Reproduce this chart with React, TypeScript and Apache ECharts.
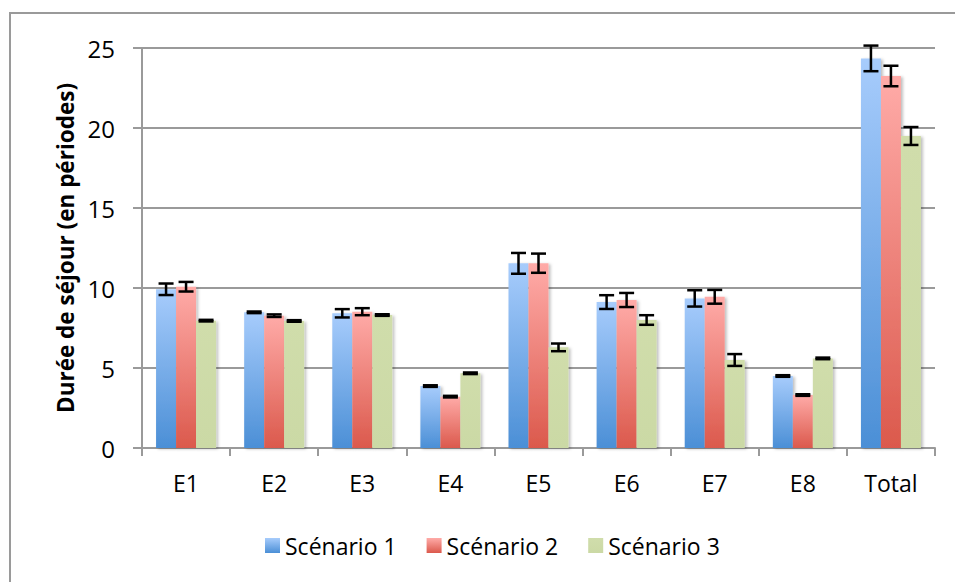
import React, { useEffect, useRef } from "react";
import * as echarts from "echarts";

const categories = ["E1", "E2", "E3", "E4", "E5", "E6", "E7", "E8", "Total"];
const seriesNames = ["Scénario 1", "Scénario 2", "Scénario 3"];
const scenario1 = [9.92, 8.48, 8.42, 3.87, 11.54, 9.12, 9.35, 4.5, 24.35];
const scenario2 = [10.08, 8.27, 8.52, 3.21, 11.55, 9.25, 9.45, 3.31, 23.25];
const scenario3 = [7.96, 7.94, 8.31, 4.67, 6.29, 8.0, 5.5, 5.6, 19.5];
const error1 = [0.36, 0.05, 0.26, 0.05, 0.65, 0.43, 0.51, 0.05, 0.8];
const error2 = [0.3, 0.08, 0.22, 0.05, 0.6, 0.44, 0.43, 0.05, 0.64];
const error3 = [0.05, 0.05, 0.05, 0.05, 0.24, 0.3, 0.37, 0.05, 0.56];
const yTicks = [0, 5, 10, 15, 20, 25];

const FONT = "Open Sans";
const BAR_W = 20;

const grad = (top: string, bottom: string) =>
  new echarts.graphic.LinearGradient(0, 0, 0, 1, [
    { offset: 0, color: top },
    { offset: 1, color: bottom },
  ]);

export default function App() {
  const ref = useRef<HTMLDivElement>(null);
  useEffect(() => {
    if (!ref.current) return;
    const chart = echarts.init(ref.current, undefined, { renderer: "svg" });
    const values = [scenario1, scenario2, scenario3];
    const errors = [error1, error2, error3];
    const colors = [
      grad("#a7ccfc", "#4b8fd6"),
      grad("#ffaba8", "#db594c"),
      grad("#d0ddab", "#cbd9a5"),
    ];
    const barSeries = values.map((vals, i) => ({
      name: seriesNames[i],
      type: "bar",
      data: vals,
      barWidth: BAR_W,
      barGap: "0%",
      itemStyle: {
        color: colors[i],
        shadowColor: "rgba(0,0,0,0.25)",
        shadowBlur: 3,
        shadowOffsetX: 2,
        shadowOffsetY: 1,
      },
      z: 2,
    }));
    const errSeries = values.map((vals, i) => ({
      name: seriesNames[i] + " err",
      type: "custom",
      z: 5,
      silent: true,
      data: vals.map((v, k) => [k, v - errors[i][k], v + errors[i][k]]),
      renderItem: (params: any, api: any) => {
        const cat = api.value(0);
        const lo = api.coord([cat, api.value(1)]);
        const hi = api.coord([cat, api.value(2)]);
        const x = lo[0] + (i - 1) * BAR_W;
        const hw = 7.5;
        const style = { stroke: "#000", lineWidth: 2.5 };
        return {
          type: "group",
          children: [
            { type: "line", shape: { x1: x, y1: lo[1], x2: x, y2: hi[1] }, style },
            { type: "line", shape: { x1: x - hw, y1: lo[1], x2: x + hw, y2: lo[1] }, style },
            { type: "line", shape: { x1: x - hw, y1: hi[1], x2: x + hw, y2: hi[1] }, style },
          ],
        };
      },
    }));
    chart.setOption({
      animation: false,
      backgroundColor: "#ffffff",
      textStyle: { fontFamily: FONT },
      graphic: [
        {
          type: "rect",
          shape: { x: 10, y: 13, width: 980, height: 600 },
          style: { fill: "none", stroke: "#9a9a9a", lineWidth: 2 },
          silent: true,
        },
      ],
      grid: { left: 142, right: 20, top: 48, bottom: 134 },
      legend: {
        data: seriesNames,
        left: 260,
        top: 529,
        icon: "rect",
        itemWidth: 15,
        itemHeight: 15,
        itemGap: 30,
        textStyle: { fontFamily: FONT, fontSize: 23, color: "#000" },
      },
      xAxis: {
        type: "category",
        data: categories,
        axisLine: { lineStyle: { color: "#9a9a9a", width: 2 } },
        axisTick: { show: true, length: 8, lineStyle: { color: "#9a9a9a", width: 2 } },
        axisLabel: { fontFamily: FONT, fontSize: 23, color: "#000", margin: 23 },
      },
      yAxis: {
        type: "value",
        min: 0,
        max: yTicks[yTicks.length - 1],
        interval: 5,
        name: "Durée de séjour (en périodes)",
        nameLocation: "middle",
        nameGap: 63,
        nameTextStyle: { fontFamily: FONT, fontSize: 22.5, fontWeight: "bold", color: "#000" },
        axisLine: { show: true, lineStyle: { color: "#9a9a9a", width: 2 } },
        axisTick: { show: true, length: 9, lineStyle: { color: "#9a9a9a", width: 2 } },
        axisLabel: { fontFamily: FONT, fontSize: 24, color: "#000", margin: 27 },
        splitLine: { lineStyle: { color: "#9a9a9a", width: 2 } },
      },
      series: [...barSeries, ...errSeries],
    });
    return () => chart.dispose();
  }, []);
  return (
    <div
      ref={ref}
      style={{ position: "fixed", left: 0, top: 0, width: 955, height: 582 }}
    />
  );
}
